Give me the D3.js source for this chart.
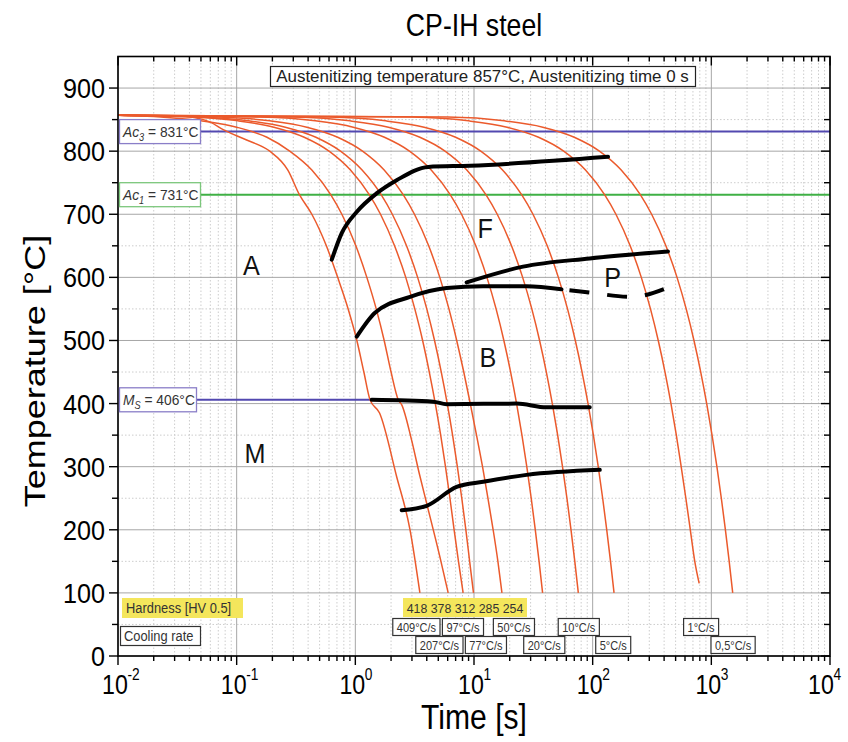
<!DOCTYPE html>
<html>
<head>
<meta charset="utf-8">
<script src="https://cdn.jsdelivr.net/npm/d3@7/dist/d3.min.js"></script>
<style>
  body { margin: 0; background: #fff; }
  text { font-family: "Liberation Sans", Arial, sans-serif; }
</style>
</head>
<body>
<svg id="canvas" width="848" height="742"></svg>
<script>
// axes
let timeDomain = [0.01, 10000]
let tempDomain = [0, 950]
let tempTicks = [0, 100, 200, 300, 400, 500, 600, 700, 800, 900]
let tempMinor = [50, 150, 250, 350, 450, 550, 650, 750, 850]
let timeDecades = [0.01, 0.1, 1, 10, 100, 1000, 10000]
let timeExponents = ['-2', '-1', '0', '1', '2', '3', '4']

// cooling curves, [time s, temperature °C]
let rate409 = [[0.01,857],[0.03,856],[0.045,853],[0.06,846],[0.077,834],[0.12,818],[0.19,800],[0.27,770],[0.338,731],[0.43,700],[0.57,650],[0.71,600],[0.87,550],[1.03,500],[1.18,450],[1.33,406],[1.6,385],[2.23,284],[2.89,200],[3.5,100]]
let rate207 = [[0.01,857],[0.02,855],[0.05,848],[0.1,838],[0.18,822],[0.28,800],[0.43,770],[0.62,731],[0.77,700],[1.01,650],[1.25,600],[1.5,550],[1.75,500],[2.0,450],[2.3,406],[2.46,398],[2.98,342],[3.45,290],[3.99,242],[5.16,157],[6.06,100]]
let rate97 = [[0.01,857],[0.041,854],[0.103,848],[0.206,838],[0.371,822],[0.6,800],[0.91,770],[1.31,731],[1.63,700],[2.14,650],[2.66,600],[3.17,550],[3.69,500],[4.2,450],[4.72,400],[5.24,350],[5.75,300],[6.27,250],[6.8,200],[7.4,150],[8.1,100]]
let rate77 = [[0.01,857],[0.049,854],[0.127,848],[0.257,838],[0.465,822],[0.75,800],[1.14,770],[1.65,731],[2.05,700],[2.7,650],[3.35,600],[4.0,550],[4.65,500],[5.3,450],[5.95,400],[6.6,350],[7.24,300],[7.89,250],[8.54,200],[9.19,150],[9.9,100]]
let rate50 = [[0.01,857],[0.07,854],[0.19,848],[0.39,838],[0.71,822],[1.15,800],[1.75,770],[2.53,731],[3.15,700],[4.15,650],[5.15,600],[6.15,550],[7.15,500],[8.2,450],[9.3,400],[10.5,350],[11.8,300],[13.1,250],[14.5,200],[15.9,150],[17.2,100]]
let rate20 = [[0.01,857],[0.16,854],[0.46,848],[0.96,838],[1.76,822],[2.86,800],[4.36,770],[6.3,731],[7.85,700],[10.35,650],[12.85,600],[15.35,550],[17.85,500],[20.35,450],[22.85,400],[25.35,350],[27.85,300],[30.35,250],[32.85,200],[35.35,150],[37.85,100]]
let rate10 = [[0.01,857],[0.3,854],[0.9,848],[1.9,838],[3.5,822],[5.7,800],[8.7,770],[12.6,731],[15.7,700],[20.7,650],[25.7,600],[30.7,550],[35.7,500],[40.7,450],[45.7,400],[50.7,350],[55.7,300],[60.7,250],[65.7,200],[70.7,150],[75.7,100]]
let rate5 = [[0.01,857],[0.6,854],[1.8,848],[3.8,838],[7,822],[11.4,800],[17.4,770],[25.2,731],[31.4,700],[41.4,650],[51.4,600],[61.4,550],[71.4,500],[81.4,450],[91.4,400],[101.4,350],[111.4,300],[121.4,250],[131.4,200],[141.4,150],[151.4,100]]
let rate1 = [[0.01,857],[3,854],[9,848],[19,838],[35,822],[57,800],[87,770],[126,731],[157,700],[207,650],[257,600],[307,550],[357,500],[407,450],[457,400],[507,350],[557,300],[610,250],[665,200],[725,150],[790,115]]
let rate05 = [[0.01,857],[6,854],[18,848],[38,838],[70,822],[114,800],[174,770],[252,731],[314,700],[414,650],[514,600],[614,550],[714,500],[814,450],[914,400],[1014,350],[1114,300],[1214,250],[1314,200],[1414,150],[1514,100]]
let coolingCurves = [rate409, rate207, rate97, rate77, rate50, rate20, rate10, rate5, rate1, rate05]

// transformation lines
let ferriteStart = [[0.633,628],[0.768,670],[1.03,704],[1.51,733],[2.23,754],[4.12,775],[9.24,777],[134.8,791]]
let pearliteStart = [[8.67,592],[25.9,617],[94.5,630],[431,641]]
let bainiteStart = [[1.027,506],[1.465,544],[2.89,569],[5.88,583],[11.95,586],[27.7,586],[54.6,581]]
let bainiteDashed = [[54.6,581],[94.2,576],[211,569],[445,585]]
let martensiteStart = [[1.374,406],[4.54,403],[5.88,399],[22.8,400],[40.8,394],[94.5,394]]
let martensiteEnd = [[2.46,231],[3.99,238],[7.14,268],[11.95,276],[27.7,287],[114.8,295]]

// critical temperatures
let ac3 = 831
let ac1 = 731
let ms = 406

// phase labels [name, time, temp]
let phaseLabels = [['A', 0.133, 620], ['F', 12.4, 678], ['P', 147.6, 601], ['B', 13.1, 474], ['M', 0.143, 322]]

// cooling rate / hardness annotations
let rateRow1 = ['409°C/s', '97°C/s', '50°C/s', '10°C/s', '1°C/s']
let rateRow1Times = [3.27, 8.07, 21.7, 76.4, 820]
let rateRow2 = ['207°C/s', '77°C/s', '20°C/s', '5°C/s', '0,5°C/s']
let rateRow2Times = [5.11, 12.6, 39.1, 149, 1525]
let hardness = ['418', '378', '312', '285', '254']

let canvas = d3.select('#canvas')

let xScale = d3.scaleLog().domain(timeDomain).range([118, 830])
let yScale = d3.scaleLinear().domain(tempDomain).range([656, 56.5])

let x0 = xScale.range()[0], x1 = xScale.range()[1]
let y0 = yScale.range()[0], y1 = yScale.range()[1]

// text squeezed horizontally like the original
let addText = (parent, px, py, size, anchor, sx) => {
    return parent.append('text')
        .attr('font-size', size)
        .attr('text-anchor', anchor || 'start')
        .attr('transform', 'translate(' + px + ',' + py + ') scale(' + sx + ',1)')
}

// grid
let grid = canvas.append('g')
let allTimeTicks = xScale.ticks()
allTimeTicks.forEach((t) => {
    let major = Math.abs(Math.log10(t) - Math.round(Math.log10(t))) < 1e-6
    grid.append('line')
        .attr('x1', xScale(t)).attr('x2', xScale(t))
        .attr('y1', y0).attr('y2', y1)
        .attr('stroke', major ? '#a6a6a6' : '#cdcdcd')
        .attr('stroke-width', 1)
        .attr('stroke-dasharray', major ? null : '1.5,2')
})
tempTicks.forEach((T) => {
    grid.append('line')
        .attr('x1', x0).attr('x2', x1)
        .attr('y1', yScale(T)).attr('y2', yScale(T))
        .attr('stroke', '#a6a6a6').attr('stroke-width', 1)
})
tempMinor.forEach((T) => {
    grid.append('line')
        .attr('x1', x0).attr('x2', x1)
        .attr('y1', yScale(T)).attr('y2', yScale(T))
        .attr('stroke', '#cdcdcd').attr('stroke-width', 1)
        .attr('stroke-dasharray', '1.5,2')
})

// critical temperature lines
canvas.append('line')
    .attr('x1', 200).attr('x2', x1)
    .attr('y1', yScale(ac3)).attr('y2', yScale(ac3))
    .attr('stroke', '#5248b0').attr('stroke-width', 2)
canvas.append('line')
    .attr('x1', 200).attr('x2', x1)
    .attr('y1', yScale(ac1)).attr('y2', yScale(ac1))
    .attr('stroke', '#3fb045').attr('stroke-width', 2)
canvas.append('line')
    .attr('x1', 196).attr('x2', xScale(martensiteStart[0][0]))
    .attr('y1', yScale(ms)).attr('y2', yScale(ms))
    .attr('stroke', '#5248b0').attr('stroke-width', 2)

let line = d3.line()
    .x((d) => xScale(d[0]))
    .y((d) => yScale(d[1]))
    .curve(d3.curveMonotoneX)

// cooling curves
canvas.append('g').selectAll('path')
    .data(coolingCurves)
    .enter()
    .append('path')
    .attr('d', line)
    .attr('fill', 'none')
    .attr('stroke', '#eb5a2c')
    .attr('stroke-width', 1.5)

// transformation lines
let blackLines = [ferriteStart, pearliteStart, bainiteStart, martensiteStart, martensiteEnd]
canvas.append('g').selectAll('path')
    .data(blackLines)
    .enter()
    .append('path')
    .attr('d', line)
    .attr('fill', 'none')
    .attr('stroke', '#000')
    .attr('stroke-width', 4)
    .attr('stroke-linecap', 'round')
    .attr('stroke-linejoin', 'round')
canvas.append('path')
    .attr('d', line(bainiteDashed))
    .attr('fill', 'none')
    .attr('stroke', '#000')
    .attr('stroke-width', 4)
    .attr('stroke-dasharray', '20,18')
    .attr('stroke-dashoffset', 30)

// phase letters
phaseLabels.forEach((p) => {
    addText(canvas, xScale(p[1]), yScale(p[2]) + 10, 28, 'middle', 0.9)
        .attr('fill', '#111')
        .text(p[0])
})

// frame
canvas.append('rect')
    .attr('x', x0).attr('y', y1)
    .attr('width', x1 - x0).attr('height', y0 - y1)
    .attr('fill', 'none').attr('stroke', '#000').attr('stroke-width', 1.6)

// ticks
let ticks = canvas.append('g').attr('stroke', '#000').attr('stroke-width', 1.4)
allTimeTicks.forEach((t) => {
    let major = Math.abs(Math.log10(t) - Math.round(Math.log10(t))) < 1e-6
    let len = major ? 9 : 5
    ticks.append('line').attr('x1', xScale(t)).attr('x2', xScale(t)).attr('y1', y0).attr('y2', y0 + len)
    ticks.append('line').attr('x1', xScale(t)).attr('x2', xScale(t)).attr('y1', y1).attr('y2', y1 + len)
})
tempTicks.concat(tempMinor).forEach((T) => {
    let len = T % 100 === 0 ? 9 : 6
    ticks.append('line').attr('x1', x0 - len).attr('x2', x0).attr('y1', yScale(T)).attr('y2', yScale(T))
    ticks.append('line').attr('x1', x1 - len).attr('x2', x1).attr('y1', yScale(T)).attr('y2', yScale(T))
})

// tick labels
tempTicks.forEach((T) => {
    addText(canvas, x0 - 13, yScale(T) + 10, 28, 'end', 0.9).text(T)
})
timeDecades.forEach((t, i) => {
    let cx = xScale(t) - (i === timeDecades.length - 1 ? 9 : 3)
    addText(canvas, cx, 694, 27, 'middle', 0.86).text('10')
    addText(canvas, cx + 12.5, 680, 16, 'start', 0.86).text(timeExponents[i])
})

// titles
addText(canvas, (x0 + x1) / 2, 36, 31, 'middle', 0.86).text('CP-IH steel')
addText(canvas, (x0 + x1) / 2, 729, 35, 'middle', 0.86).text('Time [s]')
canvas.append('text')
    .attr('font-size', 36)
    .attr('text-anchor', 'middle')
    .attr('transform', 'translate(45,371) scale(0.84,1) rotate(-90)')
    .text('Temperature [°C]')

// austenitizing box
let aust = canvas.append('g')
aust.append('rect')
    .attr('x', 270.5).attr('y', 66.5).attr('width', 425).attr('height', 20)
    .attr('fill', '#fff').attr('stroke', '#222').attr('stroke-width', 1.2)
let austText = addText(aust, 482.5, 82, 16, 'middle', 1)
    .attr('fill', '#222')
    .text('Austenitizing temperature 857°C, Austenitizing time 0 s')
austText.attr('transform', 'translate(482.5,82) scale(' + (413 / austText.node().getComputedTextLength()) + ',1)')

// critical temperature labels
let critLabel = (T, main, sub, value, color, w) => {
    let g = canvas.append('g')
    let cy = yScale(T)
    g.append('rect')
        .attr('x', 119.5).attr('y', cy - 12).attr('width', w).attr('height', 24)
        .attr('fill', '#fff').attr('stroke', color).attr('stroke-width', 1.3)
    let t = addText(g, 123, cy + 5.5, 15, 'start', 0.92).attr('fill', '#333')
    t.append('tspan').attr('font-style', 'italic').text(main)
    t.append('tspan').attr('font-style', 'italic').attr('font-size', 10).attr('dy', 4).text(sub)
    t.append('tspan').attr('dy', -4).text(' = ' + value + '°C')
}
critLabel(ac3, 'Ac', '3', ac3, '#8a7ec8', 81)
critLabel(ac1, 'Ac', '1', ac1, '#7cc77c', 81)
critLabel(ms, 'M', 'S', ms, '#8a7ec8', 77)

// hardness / cooling rate
let bottom = canvas.append('g')
bottom.append('rect')
    .attr('x', 122).attr('y', 598).attr('width', 121).attr('height', 20)
    .attr('fill', '#f4e65c')
addText(bottom, 126, 613, 14, 'start', 0.92).attr('fill', '#333').text('Hardness [HV 0.5]')
bottom.append('rect')
    .attr('x', 120.5).attr('y', 626.5).attr('width', 80).attr('height', 19)
    .attr('fill', '#fff').attr('stroke', '#333').attr('stroke-width', 1.2)
addText(bottom, 124, 641, 14, 'start', 0.92).attr('fill', '#333').text('Cooling rate')

bottom.append('rect')
    .attr('x', 403).attr('y', 598).attr('width', 124).attr('height', 19)
    .attr('fill', '#f4e65c')
addText(bottom, 465, 612.5, 13, 'middle', 0.95).attr('fill', '#333').attr('xml:space', 'preserve')
    .text(hardness.join(' '))

let rateBox = (label, t, cy) => {
    let cx = xScale(t)
    let txt = addText(bottom, cx, cy + 4.5, 12.5, 'middle', 0.88).attr('fill', '#333').text(label)
    let w = txt.node().getComputedTextLength() * 0.88 + 8
    bottom.insert('rect', 'text')
        .attr('x', cx - w / 2).attr('y', cy - 8.5).attr('width', w).attr('height', 17)
        .attr('fill', '#fff').attr('stroke', '#333').attr('stroke-width', 1.2)
}
rateRow1.forEach((r, i) => rateBox(r, rateRow1Times[i], 627))
rateRow2.forEach((r, i) => rateBox(r, rateRow2Times[i], 645))
</script>
</body>
</html>
